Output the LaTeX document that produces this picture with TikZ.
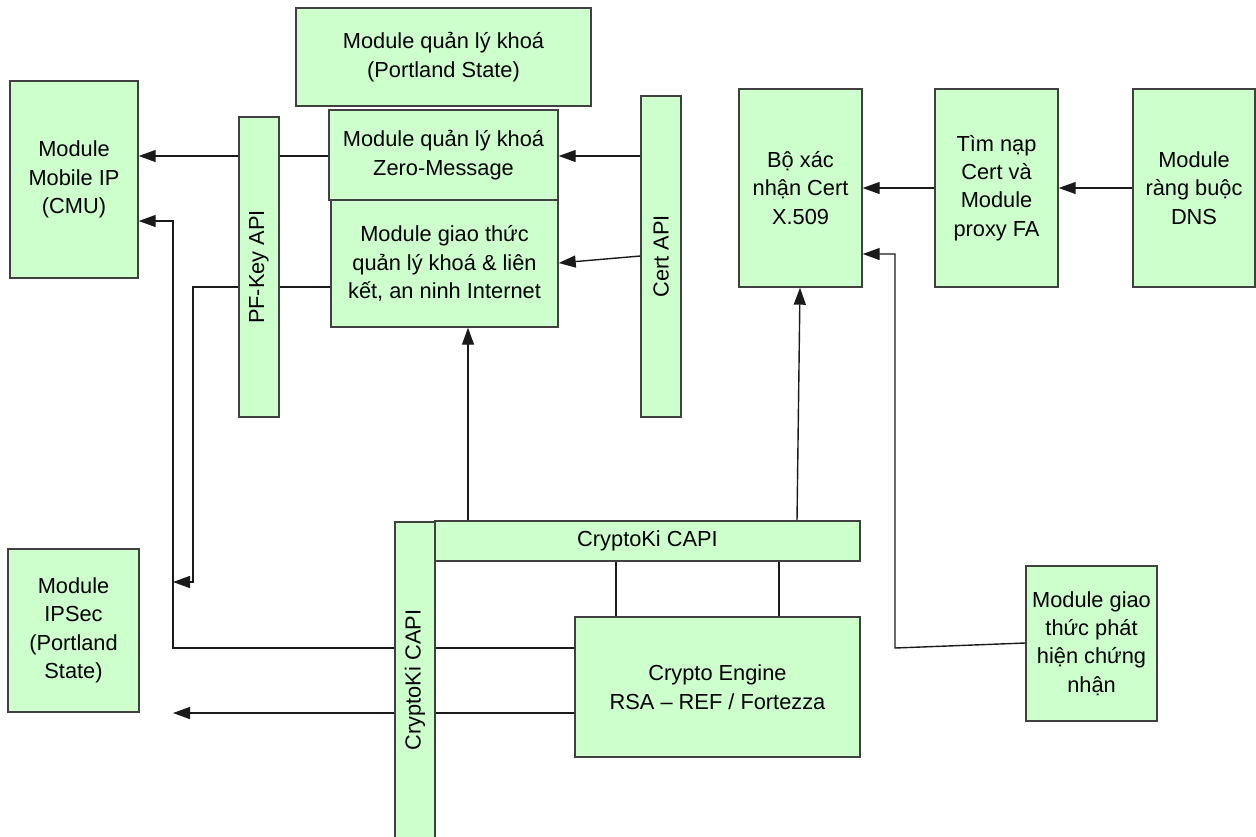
\documentclass[tikz,border=0pt]{standalone}
\usepackage{fontspec}
\setmainfont{Liberation Sans}
\usetikzlibrary{arrows.meta}
\definecolor{boxfill}{HTML}{CCFFCC}
\definecolor{boxline}{HTML}{404040}
\definecolor{wire}{HTML}{1A1A1A}
\begin{document}
\begin{tikzpicture}[x=0.5pt,y=-0.5pt,
  box/.style={draw=boxline, fill=boxfill, line width=0.7pt, inner sep=0pt,
    align=center, font=\fontsize{10.9}{14.2}\selectfont},
  sz/.style 2 args={minimum width=#1, minimum height=#2},
  lbl/.style={inner sep=0pt, align=center, font=\fontsize{10.9}{14.2}\selectfont},
  wireline/.style={draw=wire, line width=0.7pt},
  arr/.style={wireline, -{Triangle[length=8.5pt,width=6pt]}}]
\useasboundingbox (0,0) rectangle (1256,836);

% boxes
\node[box, sz={147.5pt}{49pt}] (pl) at (443.5,57) {Module quản lý khoá\\(Portland State)};
\node[box, sz={64pt}{98.5pt}] (mip) at (74,179.5) {Module\\Mobile IP\\(CMU)};
\node[box, sz={20pt}{150pt}] (pf) at (259,267) {};
\node[lbl, rotate=90] (pft) at (pf.center) {PF-Key API};
\node[box, sz={113.5pt}{63.5pt}] (gt) at (444.5,263.5) {Module giao thức\\quản lý khoá \& liên\\kết, an ninh Internet};
\node[box, sz={114.5pt}{45pt}] (zm) at (443.5,155) {Module quản lý khoá\\Zero-Message};
\node[box, sz={20pt}{160.5pt}] (ca) at (661,256.5) {};
\node[lbl, rotate=90] (cat) at (ca.center) {Cert API};
\node[box, sz={61.5pt}{99pt}] (bx) at (800.5,188) {Bộ xác\\nhận Cert\\X.509};
\node[box, sz={61.5pt}{99pt}] (tn) at (996.5,188) {Tìm nạp\\Cert và\\Module\\proxy FA};
\node[box, sz={61pt}{99pt}] (dns) at (1194,188) {Module\\ràng buộc\\DNS};
\node[box, sz={65.5pt}{81.5pt}] (ips) at (73.5,630.5) {Module\\IPSec\\(Portland\\State)};
\node[box, sz={20pt}{159pt}] (cv) at (415,681) {};
\node[lbl, rotate=90] (cvt) at (415,680) {CryptoKi CAPI};
\node[box, sz={212.5pt}{20pt}] (ch) at (647.5,541) {CryptoKi CAPI};
\node[box, sz={142.5pt}{70pt}] (ce) at (717.5,687) {Crypto Engine\\RSA – REF / Fortezza};
\node[box, sz={65.5pt}{77.5pt}] (ph) at (1091.5,643.5) {Module giao\\thức phát\\hiện chứng\\nhận};

% helper coordinates
\coordinate (yzm) at (0,156);
\coordinate (ygt) at (0,287);
\coordinate (b1) at (193,287);
\coordinate (t1) at (173,582);
\coordinate (c3) at (173,648);
\coordinate (m2) at (0,221);
\coordinate (t2) at (173,713);
\coordinate (p6a) at (0,256);
\coordinate (p6b) at (0,263);
\coordinate (x7) at (468,0);
\coordinate (x8a) at (616,0);
\coordinate (x8b) at (779,0);
\coordinate (x9a) at (797,0);
\coordinate (x9b) at (800,0);
\coordinate (ph1) at (0,643);
\coordinate (d1) at (895,648);
\coordinate (d2) at (895,254);

% connectors
\draw[wireline] (zm.west |- yzm) -- (pf.east |- yzm);
\draw[arr] (pf.west |- yzm) -- (mip.east |- yzm);
\draw[wireline] (gt.west |- ygt) -- (pf.east |- ygt);
\draw[arr] (pf.west |- ygt) -- (b1) -- (b1 |- t1) -- (t1);
\draw[arr] (cv.west |- c3) -- (c3) -- (c3 |- m2) -- (mip.east |- m2);
\draw[wireline] (ce.west |- c3) -- (cv.east |- c3);
\draw[arr] (cv.west |- t2) -- (t2);
\draw[wireline] (ce.west |- t2) -- (cv.east |- t2);
\draw[arr] (ca.west |- yzm) -- (zm.east |- yzm);
\draw[arr] (ca.west |- p6a) -- (gt.east |- p6b);
\draw[arr] (ch.north -| x7) -- (gt.south -| x7);
\draw[wireline] (ch.south -| x8a) -- (ce.north -| x8a);
\draw[wireline] (ch.south -| x8b) -- (ce.north -| x8b);
\draw[arr] (ch.north -| x9a) -- (bx.south -| x9b);
\draw[arr] (ph.west |- ph1) -- (d1) -- (d2) -- (bx.east |- d2);
\draw[arr] (tn.west) -- (bx.east);
\draw[arr] (dns.west) -- (tn.east);
\end{tikzpicture}
\end{document}
